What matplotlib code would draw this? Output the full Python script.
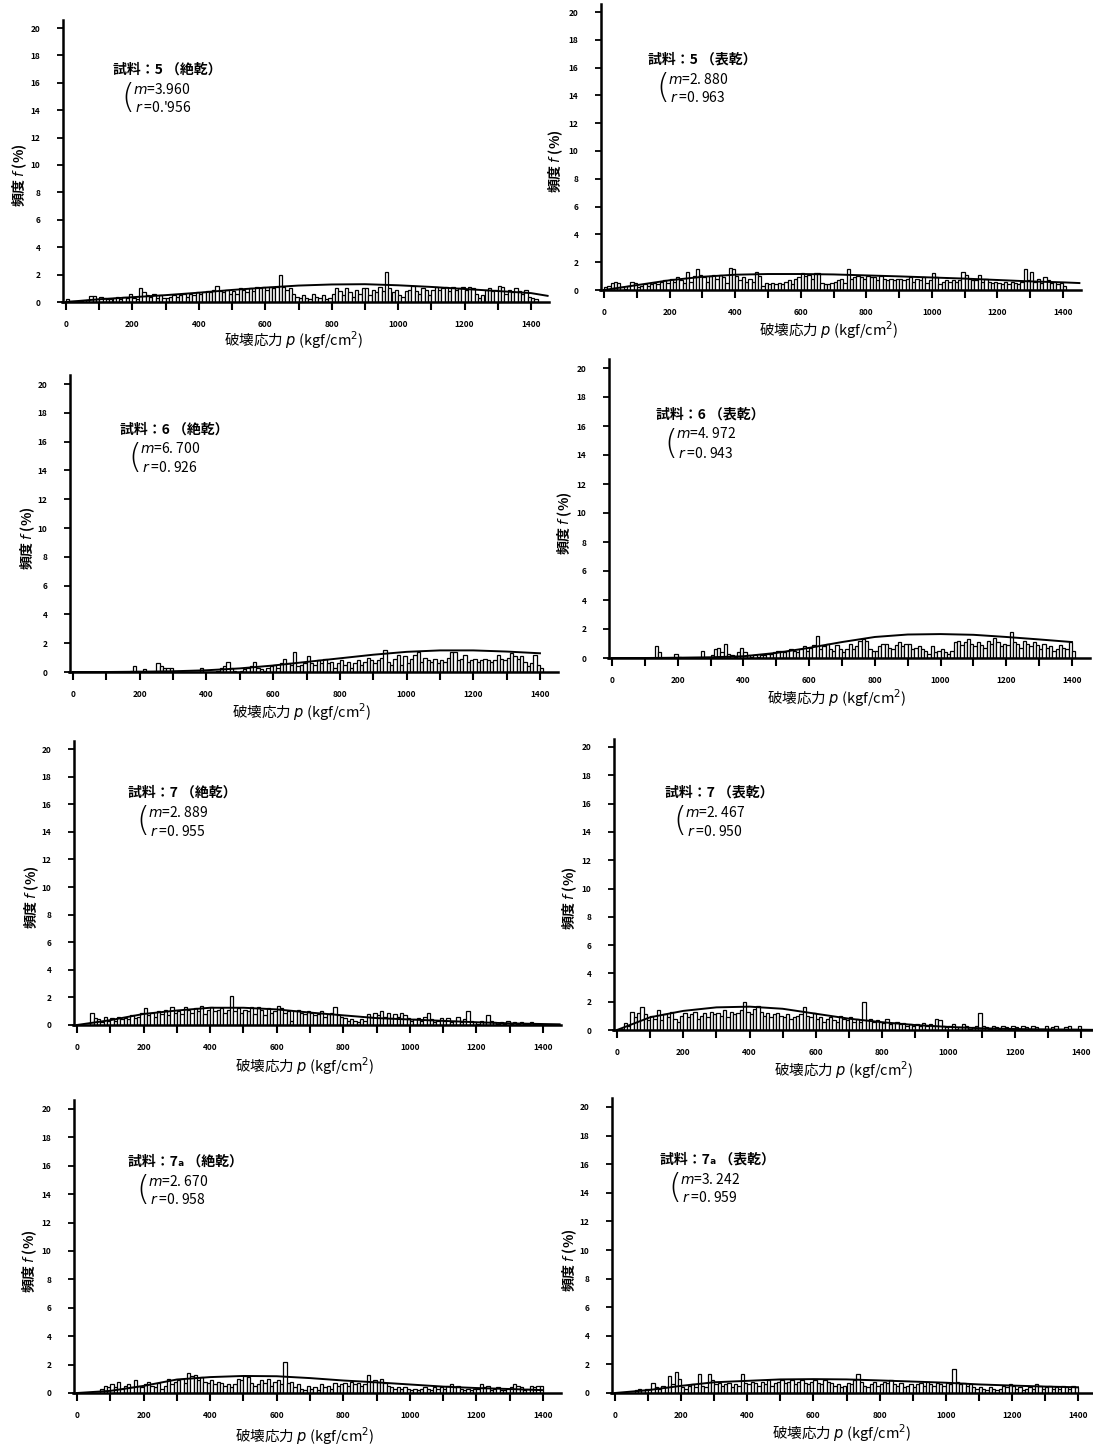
import numpy as np
import matplotlib
matplotlib.use("Agg")
import matplotlib.pyplot as plt
from matplotlib.ticker import MultipleLocator

plt.rcParams["font.family"] = ["Noto Sans CJK JP", "DejaVu Sans"]
plt.rcParams["mathtext.fontset"] = "dejavusans"

W, H = 1093, 1447
BIN_WIDTH = 10

# labels for each panel
SAMPLES = ["5", "5", "6", "6", "7", "7", "7ₐ", "7ₐ"]
STATES = ["絶乾", "表乾", "絶乾", "表乾", "絶乾", "表乾", "絶乾", "表乾"]
M_TEXT = ["3.960", "2. 880", "6. 700", "4. 972", "2. 889", "2. 467", "2. 670", "3. 242"]
R_TEXT = ["0.'956", "0. 963", "0. 926", "0. 943", "0. 955", "0. 950", "0. 958", "0. 959"]

# histogram heights (%), bins of 10 kgf/cm2 starting at 0
FREQ_5_DRY = [
    0.2, 0.1, 0.1, 0.1, 0.1, 0.0, 0.15, 0.45, 0.45, 0.2,
    0.4, 0.3, 0.2, 0.2, 0.3, 0.4, 0.2, 0.4, 0.3, 0.6,
    0.3, 0.2, 1.0, 0.7, 0.5, 0.4, 0.6, 0.3, 0.5, 0.3,
    0.3, 0.4, 0.5, 0.4, 0.5, 0.6, 0.4, 0.6, 0.5, 0.7,
    0.6, 0.7, 0.8, 0.7, 0.9, 1.2, 0.8, 0.7, 0.9, 0.6,
    0.8, 0.6, 1.0, 0.9, 0.7, 1.0, 0.8, 1.1, 1.0, 1.1,
    0.9, 1.1, 1.0, 1.1, 2.0, 1.1, 0.9, 1.0, 0.6, 0.4,
    0.3, 0.5, 0.3, 0.2, 0.6, 0.4, 0.3, 0.5, 0.2, 0.3,
    0.6, 1.0, 0.8, 0.5, 1.0, 0.7, 0.4, 0.9, 0.6, 1.0,
    1.0, 0.5, 0.9, 0.7, 1.1, 0.8, 2.2, 1.0, 0.7, 0.9,
    0.5, 0.4, 0.8, 0.9, 1.2, 0.8, 0.6, 1.0, 0.9, 0.5,
    0.9, 1.1, 0.9, 1.0, 1.1, 0.8, 1.1, 0.9, 1.0, 1.1,
    0.9, 1.1, 1.0, 0.6, 0.3, 0.5, 0.9, 1.0, 0.8, 0.9,
    1.2, 1.1, 0.6, 0.9, 0.7, 1.0, 0.8, 0.6, 0.9, 0.4,
    0.3, 0.2,
]
FREQ_5_SSD = [
    0.2, 0.3, 0.5, 0.6, 0.5, 0.2, 0.1, 0.3, 0.6, 0.5,
    0.2, 0.3, 0.4, 0.3, 0.4, 0.5, 0.4, 0.6, 0.7, 0.5,
    0.8, 0.6, 0.9, 0.7, 0.5, 1.3, 0.6, 1.0, 1.5, 1.1,
    0.9, 0.6, 1.0, 1.1, 0.8, 1.1, 0.9, 0.5, 1.6, 1.5,
    1.0, 0.7, 0.9, 0.6, 0.8, 0.6, 1.3, 1.0, 0.3, 0.5,
    0.4, 0.5, 0.4, 0.5, 0.4, 0.6, 0.7, 0.4, 0.8, 0.9,
    1.2, 1.0, 1.1, 0.8, 1.2, 1.2, 0.5, 0.4, 0.4, 0.5,
    0.6, 0.7, 0.8, 0.5, 1.5, 0.8, 0.9, 1.0, 0.9, 0.8,
    1.0, 0.9, 0.9, 0.7, 1.0, 0.8, 0.7, 0.8, 0.7, 0.8,
    0.8, 0.7, 0.8, 0.9, 0.6, 0.8, 0.7, 0.9, 0.5, 0.7,
    1.2, 0.9, 0.4, 0.6, 0.7, 0.6, 0.7, 0.6, 0.7, 1.3,
    1.1, 0.8, 0.7, 0.7, 1.1, 0.6, 0.8, 0.6, 0.5, 0.6,
    0.5, 0.4, 0.6, 0.4, 0.6, 0.5, 0.4, 0.6, 1.5, 0.7,
    1.3, 0.6, 0.8, 0.5, 0.9, 0.7, 0.5, 0.6, 0.4, 0.5,
    0.3,
]
FREQ_6_DRY = [
    0, 0, 0, 0, 0, 0, 0, 0, 0, 0,
    0, 0, 0, 0, 0, 0, 0, 0.1, 0.4, 0.1,
    0, 0.2, 0, 0, 0, 0.6, 0.4, 0.3, 0.3, 0.3,
    0.1, 0.1, 0, 0, 0, 0, 0, 0, 0.3, 0,
    0, 0, 0, 0.1, 0.3, 0.4, 0.7, 0.3, 0.1, 0,
    0.1, 0.2, 0.3, 0.4, 0.7, 0.3, 0.2, 0.1, 0.3, 0.4,
    0.5, 0.3, 0.6, 0.9, 0.6, 0.5, 1.4, 0.4, 0.5, 0.6,
    1.1, 0.6, 0.5, 0.8, 0.6, 0.9, 0.6, 0.7, 0.3, 0.6,
    0.8, 0.5, 0.7, 0.3, 0.6, 0.8, 0.5, 0.7, 1.0, 0.8,
    0.6, 0.8, 1.0, 1.5, 0.7, 0.5, 0.9, 1.2, 0.5, 1.1,
    0.6, 0.9, 1.2, 1.4, 0.7, 1.0, 0.8, 0.7, 0.9, 0.6,
    0.8, 0.7, 1.0, 1.4, 1.4, 0.8, 0.9, 1.2, 0.7, 0.8,
    0.9, 0.7, 0.8, 0.9, 0.8, 0.7, 0.8, 1.2, 0.9, 0.8,
    1.0, 1.3, 1.1, 0.9, 1.1, 0.7, 0.4, 0.6, 1.2, 0.5,
    0.3,
]
FREQ_6_SSD = [
    0, 0, 0, 0, 0, 0, 0, 0, 0, 0,
    0, 0, 0, 0.8, 0.4, 0, 0, 0, 0, 0.3,
    0.1, 0, 0, 0, 0, 0, 0, 0.5, 0, 0,
    0.2, 0.6, 0.7, 0.4, 1.0, 0.3, 0.2, 0.1, 0.4, 0.7,
    0.4, 0.2, 0.1, 0.2, 0.1, 0.2, 0.2, 0.3, 0.3, 0.4,
    0.5, 0.5, 0.4, 0.5, 0.6, 0.5, 0.4, 0.6, 0.8, 0.5,
    0.7, 0.9, 1.5, 0.6, 0.8, 1.0, 0.6, 0.5, 0.9, 0.6,
    0.4, 0.6, 1.0, 0.6, 0.8, 1.2, 1.3, 1.2, 0.6, 0.5,
    0.5, 0.8, 1.0, 1.0, 0.7, 0.6, 0.9, 1.1, 0.8, 1.0,
    1.0, 0.6, 0.7, 0.8, 0.6, 0.5, 0.3, 0.8, 0.4, 0.5,
    0.6, 0.4, 0.3, 0.5, 1.1, 1.2, 0.9, 1.1, 1.3, 1.0,
    0.8, 1.1, 0.9, 0.7, 1.2, 1.0, 1.4, 1.1, 0.8, 1.0,
    0.9, 1.8, 1.1, 1.0, 0.7, 1.2, 1.0, 0.8, 1.1, 0.9,
    0.6, 1.0, 0.7, 0.8, 0.5, 0.6, 0.9, 0.7, 0.6, 1.1,
    0.5,
]
FREQ_7_DRY = [
    0, 0, 0, 0, 0.9, 0.5, 0.4, 0.2, 0.6, 0.3,
    0.5, 0.3, 0.6, 0.4, 0.5, 0.4, 0.7, 0.5, 0.6, 0.9,
    1.2, 0.7, 0.9, 0.6, 1.0, 0.8, 1.1, 0.7, 1.3, 0.9,
    1.0, 0.8, 1.3, 1.1, 0.9, 1.2, 1.0, 1.4, 0.8, 1.1,
    1.3, 1.0, 1.1, 1.2, 0.9, 1.1, 2.1, 1.0, 1.2, 0.9,
    1.1, 1.0, 1.3, 0.8, 1.3, 1.1, 0.7, 1.2, 0.9, 1.0,
    1.4, 1.2, 0.9, 1.0, 0.3, 1.0, 1.1, 0.9, 0.8, 1.0,
    0.9, 0.7, 0.8, 1.0, 0.6, 0.8, 0.9, 1.3, 0.7, 0.6,
    0.5, 0.3, 0.4, 0.3, 0.2, 0.4, 0.3, 0.8, 0.6, 0.9,
    0.7, 1.0, 0.6, 0.9, 0.5, 0.8, 0.6, 0.9, 0.7, 0.5,
    0.3, 0.4, 0.5, 0.3, 0.6, 0.9, 0.4, 0.2, 0.3, 0.5,
    0.3, 0.5, 0.2, 0.3, 0.6, 0.2, 0.4, 1.0, 0.3, 0.2,
    0.1, 0.3, 0.2, 0.7, 0.3, 0.2, 0.1, 0.2, 0.1, 0.3,
    0.1, 0.2, 0.1, 0.2, 0.1, 0.1, 0.2, 0.1, 0.1, 0,
]
FREQ_7_SSD = [
    0, 0.1, 0.5, 0.3, 1.3, 0.9, 1.2, 1.6, 1.1, 0.7,
    1.0, 0.8, 1.4, 0.7, 1.1, 0.9, 1.3, 0.8, 0.6, 1.0,
    1.2, 0.9, 1.1, 1.3, 0.8, 1.0, 1.2, 0.9, 1.3, 1.1,
    1.2, 1.0, 1.4, 0.9, 1.3, 1.1, 1.2, 1.4, 2.0, 1.3,
    1.1, 1.5, 1.7, 1.3, 1.0, 1.2, 0.9, 1.1, 1.2, 1.0,
    0.9, 1.1, 0.8, 0.9, 1.0, 1.1, 1.6, 1.0, 0.9, 1.2,
    0.8, 0.9, 0.6, 0.8, 0.9, 0.7, 0.6, 1.0, 0.8, 0.7,
    0.9, 0.6, 0.8, 0.6, 2.0, 0.7, 0.8, 0.6, 0.7, 0.6,
    0.5, 0.8, 0.4, 0.5, 0.6, 0.4, 0.5, 0.3, 0.4, 0.3,
    0.4, 0.3, 0.5, 0.3, 0.4, 0.3, 0.8, 0.7, 0.3, 0.2,
    0.3, 0.4, 0.1, 0.2, 0.4, 0.3, 0.1, 0.2, 0.3, 1.2,
    0.3, 0.2, 0.1, 0.3, 0.2, 0.1, 0.3, 0.2, 0.1, 0.3,
    0.2, 0.1, 0.3, 0.2, 0.1, 0.3, 0.2, 0.1, 0.1, 0.3,
    0.1, 0.2, 0.3, 0.1, 0.1, 0.2, 0.3, 0.1, 0.1, 0.3,
]
FREQ_7A_DRY = [
    0, 0, 0, 0, 0, 0, 0, 0.3, 0.5, 0.4,
    0.6, 0.4, 0.8, 0.3, 0.5, 0.6, 0.4, 0.9, 0.5, 0.4,
    0.6, 0.8, 0.5, 0.4, 0.7, 0.3, 0.5, 1.0, 0.6, 0.8,
    0.9, 1.0, 0.7, 1.4, 1.2, 1.3, 0.9, 1.1, 0.8, 0.7,
    0.9, 0.6, 0.8, 0.7, 0.5, 0.6, 0.4, 0.6, 1.0, 0.9,
    1.2, 1.1, 0.7, 0.5, 0.6, 0.9, 0.7, 1.0, 0.5, 0.8,
    0.9, 0.6, 2.2, 0.7, 0.8, 0.4, 0.6, 0.3, 0.2, 0.5,
    0.3, 0.4, 0.2, 0.6, 0.4, 0.5, 0.3, 0.7, 0.5, 0.6,
    0.7, 0.5, 0.8, 0.6, 0.7, 0.5, 0.6, 1.3, 0.8, 0.9,
    0.8, 1.0, 0.7, 0.5, 0.4, 0.3, 0.4, 0.3, 0.4, 0.3,
    0.2, 0.3, 0.2, 0.3, 0.4, 0.3, 0.2, 0.4, 0.3, 0.4,
    0.3, 0.5, 0.6, 0.4, 0.5, 0.3, 0.2, 0.3, 0.2, 0.3,
    0.3, 0.6, 0.4, 0.5, 0.2, 0.3, 0.4, 0.2, 0.2, 0.3,
    0.4, 0.6, 0.5, 0.4, 0.2, 0.3, 0.5, 0.4, 0.5, 0.5,
]
FREQ_7A_SSD = [
    0, 0, 0, 0, 0, 0, 0.2, 0.3, 0.2, 0.3,
    0.3, 0.7, 0.4, 0.3, 0.5, 0.4, 1.2, 0.6, 1.5, 1.0,
    0.4, 0.3, 0.5, 0.6, 0.4, 1.3, 0.5, 0.4, 1.3, 0.9,
    0.6, 0.7, 0.5, 0.6, 0.7, 0.4, 0.6, 0.5, 1.3, 0.7,
    0.6, 0.8, 0.7, 0.5, 0.8, 0.6, 0.9, 0.5, 0.7, 0.8,
    0.9, 0.7, 0.8, 0.9, 0.6, 0.8, 0.9, 0.7, 0.6, 0.8,
    0.9, 0.7, 0.6, 0.9, 0.8, 0.7, 0.5, 0.6, 0.4, 0.5,
    0.7, 0.6, 0.9, 1.3, 0.8, 0.5, 0.4, 0.6, 0.8, 0.5,
    0.6, 0.8, 0.7, 0.9, 0.6, 0.5, 0.7, 0.4, 0.5, 0.6,
    0.4, 0.6, 0.7, 0.5, 0.8, 0.6, 0.5, 0.7, 0.6, 0.5,
    0.7, 0.6, 1.7, 0.8, 0.6, 0.7, 0.5, 0.6, 0.4, 0.3,
    0.4, 0.3, 0.2, 0.4, 0.3, 0.2, 0.3, 0.5, 0.4, 0.6,
    0.5, 0.3, 0.4, 0.2, 0.3, 0.4, 0.3, 0.6, 0.5, 0.3,
    0.4, 0.5, 0.3, 0.4, 0.3, 0.5, 0.4, 0.3, 0.5, 0.4,
]

# fitted Weibull curves (%), x in kgf/cm2
CURVE_X = [0, 100, 200, 300, 400, 500, 600, 700, 800, 900, 1000, 1100, 1200, 1300, 1400, 1450]
CURVE_5_DRY = [0.0, 0.2, 0.35, 0.5, 0.68, 0.88, 1.05, 1.2, 1.28, 1.3, 1.22, 1.1, 0.95, 0.8, 0.65, 0.45]
CURVE_5_SSD = [0.0, 0.35, 0.7, 0.95, 1.1, 1.15, 1.15, 1.12, 1.05, 0.98, 0.9, 0.82, 0.72, 0.62, 0.55, 0.5]
CURVE_6_DRY = [0.0, 0.0, 0.02, 0.05, 0.12, 0.25, 0.45, 0.7, 0.95, 1.2, 1.4, 1.5, 1.5, 1.42, 1.3, None]
CURVE_6_SSD = [0.0, 0.0, 0.02, 0.05, 0.12, 0.35, 0.7, 1.1, 1.45, 1.62, 1.65, 1.6, 1.45, 1.28, 1.1, None]
CURVE_7_DRY = [0.0, 0.35, 0.8, 1.05, 1.25, 1.25, 1.13, 0.9, 0.7, 0.5, 0.4, 0.3, 0.2, 0.12, 0.07, 0.05]
CURVE_7_SSD = [0.0, 0.9, 1.35, 1.6, 1.65, 1.5, 1.15, 0.8, 0.55, 0.35, 0.22, 0.12, 0.07, 0.04, 0.02, 0.01]
CURVE_7A_DRY = [0.0, 0.15, 0.5, 0.95, 1.12, 1.2, 1.18, 1.05, 0.88, 0.75, 0.6, 0.45, 0.35, 0.28, 0.2, None]
CURVE_7A_SSD = [0.0, 0.2, 0.5, 0.75, 0.85, 0.95, 0.97, 0.95, 0.88, 0.8, 0.72, 0.6, 0.52, 0.45, 0.4, None]

FREQS = [FREQ_5_DRY, FREQ_5_SSD, FREQ_6_DRY, FREQ_6_SSD,
         FREQ_7_DRY, FREQ_7_SSD, FREQ_7A_DRY, FREQ_7A_SSD]
CURVES = [CURVE_5_DRY, CURVE_5_SSD, CURVE_6_DRY, CURVE_6_SSD,
          CURVE_7_DRY, CURVE_7_SSD, CURVE_7A_DRY, CURVE_7A_SSD]

# panel placement in pixels: x of 0, x of 1400, y of 0, y of 20
PANEL_PX = [
    (66, 531, 302, 28), (604, 1063, 290, 12),
    (73, 540, 672, 384), (612, 1072, 658, 368),
    (77, 543, 1025, 749), (617, 1081, 1030, 747),
    (77, 543, 1393, 1109), (615, 1078, 1393, 1107),
]
# annotation anchor (x, y of title), y-label x, x-label centre y
TEXT_PX = [
    (113, 70, 20, 340), (648, 60, 556, 330),
    (120, 430, 28, 712), (656, 415, 565, 698),
    (128, 793, 32, 1066), (665, 793, 570, 1070),
    (128, 1162, 30, 1436), (660, 1160, 570, 1433),
]


def fx(px):
    return px / W


def fy(py):
    return 1 - py / H


def draw_panel(i):
    x0, x14, y0, y20 = PANEL_PX[i]
    s = (x14 - x0) / 1400.0
    t = (y0 - y20) / 20.0
    left, right = x0 - 12 * s, x0 + 1455 * s
    top = y0 - 20.6 * t
    ax = fig.add_axes([fx(left), fy(y0), (right - left) / W, (y0 - top) / H])

    freq = FREQS[i]
    lefts = np.arange(len(freq)) * BIN_WIDTH
    ax.bar(lefts, freq, width=BIN_WIDTH, align="edge",
           facecolor="white", edgecolor="black", linewidth=0.9)
    cx = [x for x, y in zip(CURVE_X, CURVES[i]) if y is not None]
    cy = [y for y in CURVES[i] if y is not None]
    ax.plot(cx, cy, color="black", linewidth=1.4)

    ax.set_xlim(-12, 1455)
    ax.set_ylim(0, 20.6)
    for side in ("top", "right"):
        ax.spines[side].set_visible(False)
    ax.spines["left"].set_linewidth(1.8)
    ax.spines["bottom"].set_linewidth(1.8)
    ax.spines["left"].set_position(("data", -10))

    ax.xaxis.set_major_locator(MultipleLocator(200))
    ax.xaxis.set_minor_locator(MultipleLocator(100))
    ax.yaxis.set_major_locator(MultipleLocator(2))
    ax.tick_params(axis="x", which="both", direction="out", length=6, width=1.5, pad=7,
                   labelsize=6)
    ax.tick_params(axis="y", direction="out", length=4, width=1.3, pad=12, labelsize=6)
    for lab in ax.get_xticklabels() + ax.get_yticklabels():
        lab.set_fontweight("bold")

    tx, ty, ylx, xly = TEXT_PX[i]
    fig.text(fx(tx), fy(ty), f"試料：{SAMPLES[i]} （{STATES[i]}）",
             fontsize=10, fontweight="bold", va="center", ha="left")
    fig.text(fx(tx + 8), fy(ty + 29), "(", fontsize=24, fontweight="light",
             va="center", ha="left", family="DejaVu Sans")
    fig.text(fx(tx + 20), fy(ty + 19), f"$m$={M_TEXT[i]}", fontsize=10,
             va="center", ha="left")
    fig.text(fx(tx + 22), fy(ty + 38), f"$r$ ={R_TEXT[i]}", fontsize=10,
             va="center", ha="left")

    ymid = (y0 + y20) / 2 + 30
    fig.text(fx(ylx), fy(ymid - 20), "頻度 $f$ (%)", rotation=90, fontsize=10,
             fontweight="bold", va="center", ha="center")
    fig.text(fx((x0 + x14) / 2 - 5), fy(xly), "破壊応力 $p$ (kgf/cm$^2$)",
             fontsize=10.5, va="center", ha="center")
    return ax


fig = plt.figure(figsize=(W / 100, H / 100), dpi=100)
for i in range(8):
    draw_panel(i)

fig.savefig("out.png", dpi=100)
